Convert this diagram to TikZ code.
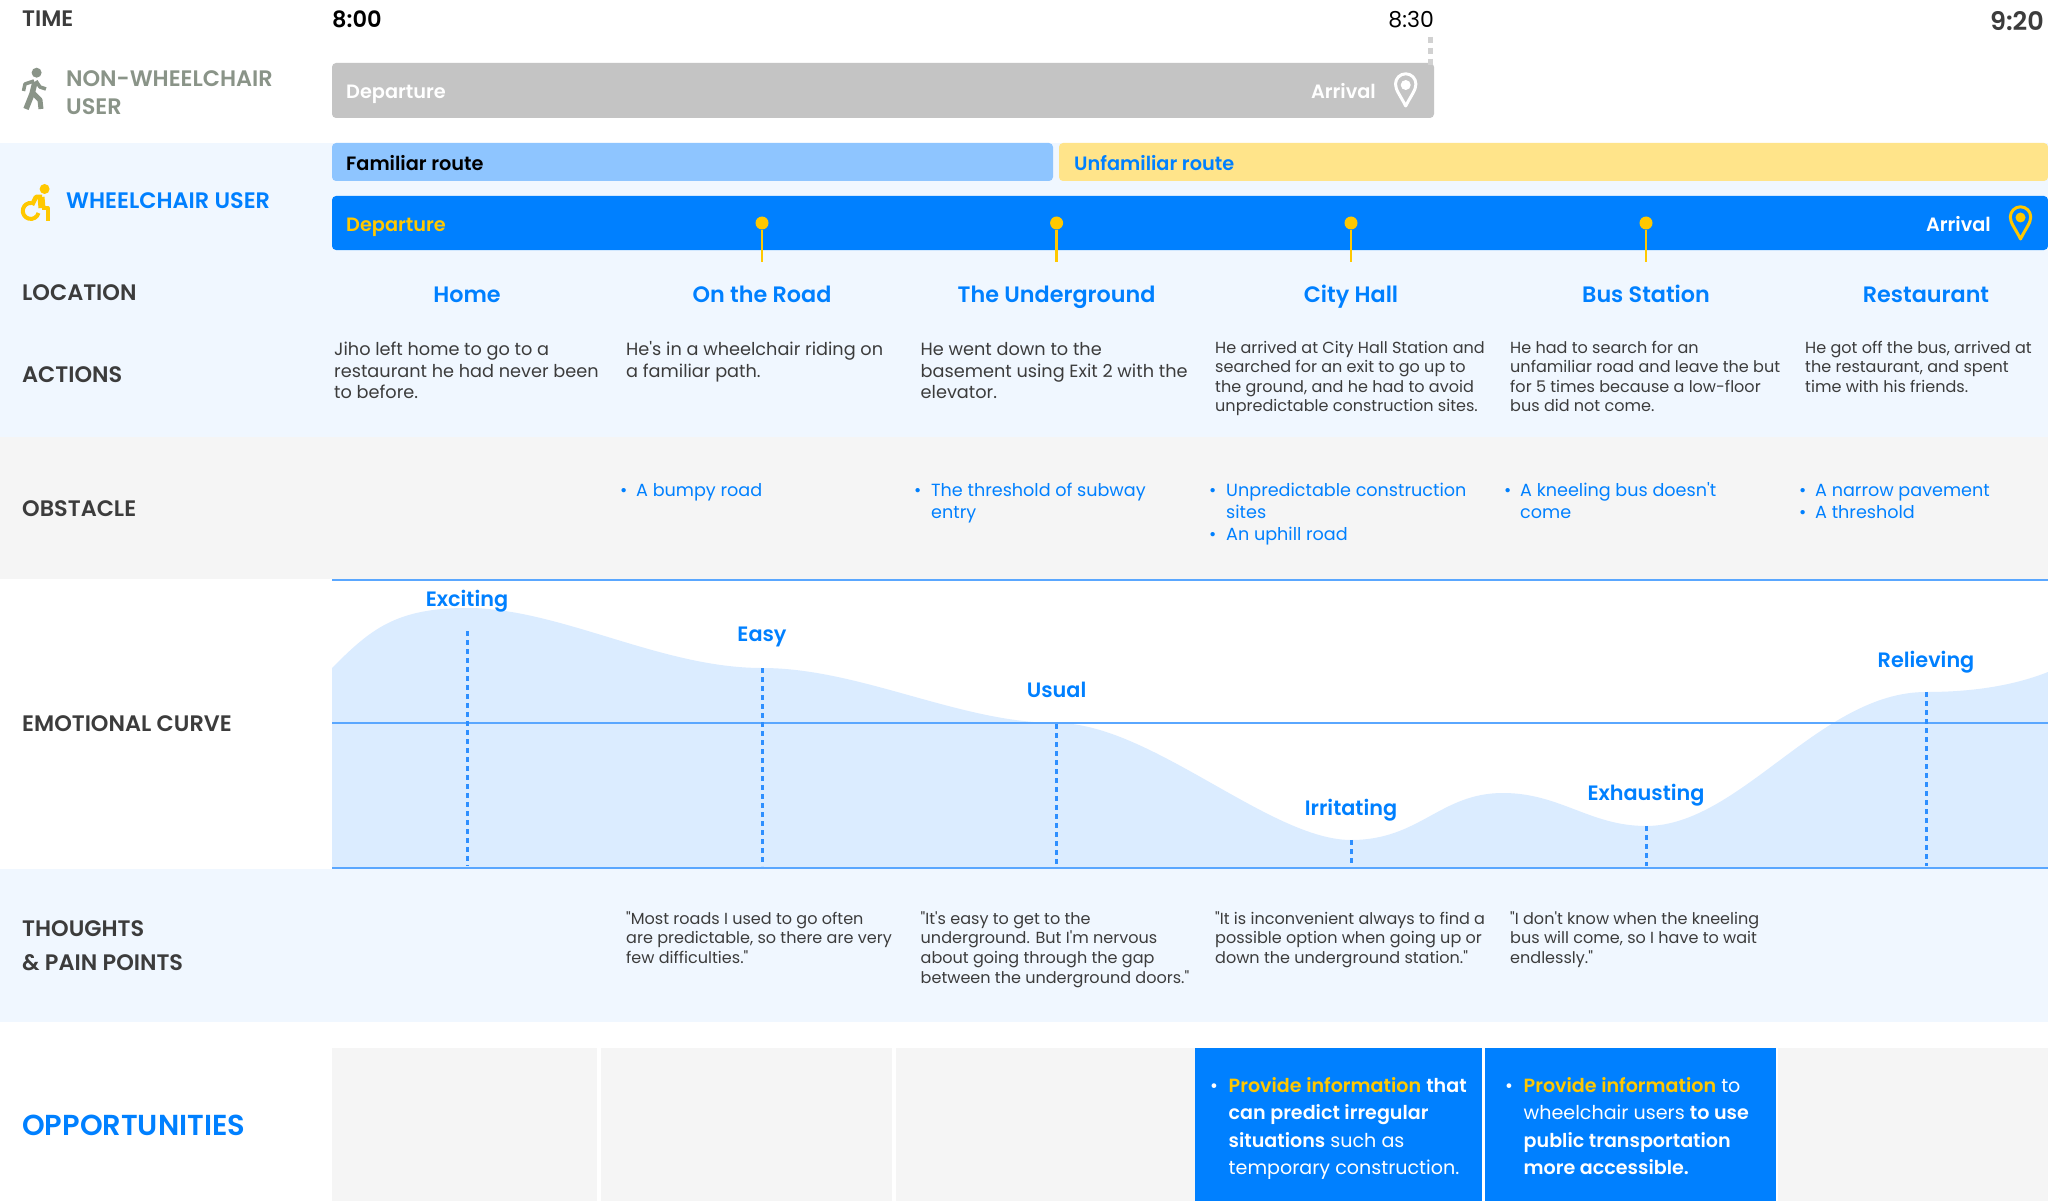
\documentclass[tikz,border=0pt]{standalone}
\usepackage{fontspec}
\setmainfont{Poppins}
\newfontfamily\preg{Poppins}
\newfontfamily\pmed{Poppins Medium}
\newfontfamily\psemi{Poppins SemiBold}
\definecolor{band}{HTML}{F0F7FF}
\definecolor{graycell}{HTML}{F5F5F5}
\definecolor{bluemain}{HTML}{0080FF}
\definecolor{yel}{HTML}{FFC800}
\definecolor{ink}{HTML}{3C3C3C}
\definecolor{walker}{HTML}{8A9488}
\definecolor{barb}{HTML}{8EC5FF}
\definecolor{bary}{HTML}{FFE48A}
\definecolor{curvefill}{HTML}{DBECFF}
\definecolor{rule}{HTML}{5AA7FF}
\definecolor{dash}{HTML}{2E8FFF}
\tikzset{
  x=1pt,y=-1pt,
  lab/.style={inner sep=0pt,anchor=base west,font=\psemi\fontsize{22.4}{22}\selectfont,text=ink},
  loc/.style={inner sep=0pt,anchor=base,font=\psemi\fontsize{22.3}{23}\selectfont,text=bluemain},
  emo/.style={inner sep=0pt,anchor=base,font=\psemi\fontsize{20.8}{21}\selectfont,text=bluemain},
  bartxt/.style={inner sep=0pt,anchor=base west,font=\psemi\fontsize{19.3}{19.5}\selectfont},
  actbig/.style={inner sep=0pt,anchor=north west,align=left,text=ink,font=\preg\fontsize{17.7}{21.7}\selectfont},
  actsm/.style={inner sep=0pt,anchor=north west,align=left,text=ink,font=\preg\fontsize{16.05}{19.6}\selectfont},
  obst/.style={inner sep=0pt,anchor=north west,align=left,text=bluemain,font=\preg\fontsize{17.6}{21.7}\selectfont},
  opp/.style={inner sep=0pt,anchor=north west,align=left,text=white,font=\preg\fontsize{19.1}{27.6}\selectfont},
  vdash/.style={draw=dash,line width=3pt,dash pattern=on 5pt off 4pt},
  hrule/.style={draw=rule,line width=2pt},
  pinline/.style={draw=yel,line width=2.4pt},
  cell/.style={fill=graycell},
  bluecell/.style={fill=bluemain},
}
\begin{document}
\begin{tikzpicture}
\useasboundingbox (0,0) rectangle (2048,1201);
\fill[white] (0,0) rectangle (2048,1201);
% bands
\fill[band] (0,143) rectangle (2048,437);
\fill[graycell] (0,437) rectangle (2048,579);
\fill[band] (0,869) rectangle (2048,1022);
% curve
\fill[curvefill] (332,668) .. controls (370,630) and (395,608) .. (467,608)
  .. controls (560,608) and (660,668) .. (762,668)
  .. controls (860,668) and (960,723) .. (1056.6,723)
  .. controls (1150,723) and (1270,840) .. (1351,840)
  .. controls (1420,840) and (1440,793) .. (1503,793)
  .. controls (1560,793) and (1590,826) .. (1646,826)
  .. controls (1740,826) and (1820,692) .. (1926,692)
  .. controls (1975,692) and (2015,685) .. (2048,672)
  -- (2048,868) -- (332,868) -- cycle;
\coordinate (rt) at (332,580); \coordinate (rte) at (2048,580);
\coordinate (rm) at (332,723); \coordinate (rme) at (2048,723);
\coordinate (rb) at (332,868); \coordinate (rbe) at (2048,868);
\draw[hrule] (rt) -- (rte);
\draw[hrule] (rm) -- (rme);
\draw[hrule] (rb) -- (rbe);
% emotional dashed lines
\foreach \n/\x/\y in {a/467/631,b/762/668,c/1056.6/724,d/1351/840,e/1646/826,f/1926/692}{
  \coordinate (dt\n) at (\x,\y); \coordinate (db\n) at (\x,866);
  \draw[vdash] (dt\n) -- (db\n);
}
% bars
\fill[rounded corners=4pt,fill=black!23] (332,63) rectangle (1434,118);
\fill[rounded corners=4pt,fill=barb] (332,143) rectangle (1053,181);
\fill[rounded corners=4pt,fill=bary] (1059,143) rectangle (2048,181);
\fill[rounded corners=4pt,fill=bluemain] (332,196) rectangle (2048,250);
% 8:30 dashes
\coordinate (tt) at (1430,37); \coordinate (tb) at (1430,67);
\draw[draw=black!18,line width=5pt,dash pattern=on 6pt off 5pt] (tt) -- (tb);
% time row
\node[lab] (time) at (22,27) {TIME};
\node[inner sep=0pt,anchor=base west,font=\psemi\fontsize{22.5}{23}\selectfont,text=black] (t800) at (332,28) {8:00};
\node[inner sep=0pt,anchor=base east,font=\preg\fontsize{22}{22}\selectfont,text=black] (t830) at (1434,28) {8:30};
\node[inner sep=0pt,anchor=base east,font=\psemi\fontsize{25.5}{25}\selectfont,text=ink] (t920) at (2044,31) {9:20};
% walker icon
\fill[walker] (36.6,72.7) circle (5);
\draw[walker,line width=5.5pt,line join=round] (35,82) -- (32,94) -- (26,109);
\draw[walker,line width=5pt,line join=round] (33,93) -- (40,100) -- (41,109);
\draw[walker,line width=3.5pt,line join=round] (34,81) -- (25,84) -- (23.5,91);
\draw[walker,line width=3.5pt,line join=round] (36,81) -- (40,87) -- (46,89);
\node[lab,text=walker,align=left,anchor=north west,font=\psemi\fontsize{22.4}{28.7}\selectfont] (nw) at (66,66) {\strut NON-WHEELCHAIR\\USER};
% wheelchair icon
\fill[yel] (44.6,189) circle (5);
\draw[yel,line width=7pt,line join=round] (41,197) -- (42,208);
\draw[yel,line width=4pt,line join=round] (42,208) -- (47.5,208) -- (47.5,221);
\draw[yel,line width=4.5pt,line join=round] (32,205) -- (36,197) -- (42,197);
\draw[yel,line width=4pt] (38.5,213) arc (15:275:8);
\node[lab,text=bluemain] (wc) at (66,209) {WHEELCHAIR USER};
% bar labels
\node[bartxt,text=white] (dep1) at (346,98.5) {Departure};
\node[bartxt,text=white,anchor=base east] (arr1) at (1376,98.5) {Arrival};
\node[bartxt,text=black] (fam) at (346,171) {Familiar route};
\node[bartxt,text=bluemain] (unf) at (1074,171) {Unfamiliar route};
\node[bartxt,text=yel] (dep2) at (346,232) {Departure};
\node[bartxt,text=white,anchor=base east] (arr2) at (1991,232) {Arrival};
% pins
\draw[white,line width=3pt,line join=round] (1405.7,106) .. controls (1400,95) and (1395.5,90) .. (1395.5,84)
  arc (180:360:10.2) .. controls (1415.9,90) and (1411.4,95) .. cycle;
\fill[white] (1405.7,85) circle (5);
\draw[yel,line width=3pt,line join=round] (2020.5,239) .. controls (2015,228) and (2010.3,223) .. (2010.3,217)
  arc (180:360:10.2) .. controls (2030.7,223) and (2026,228) .. cycle;
\fill[yel] (2020.5,217.5) circle (5);
% route pins
\foreach \n/\x in {a/762,b/1056.6,c/1351,d/1646}{
  \node[circle,fill=yel,minimum size=13pt,inner sep=0pt] (p\n) at (\x,223) {};
  \coordinate (pe\n) at (\x,262);
  \draw[pinline] (p\n) -- (pe\n);
}
% left labels
\node[lab] (loc) at (22,300) {LOCATION};
\node[lab] (act) at (22,382) {ACTIONS};
\node[lab] (obs) at (22,516) {OBSTACLE};
\node[lab] (emc) at (22,731) {EMOTIONAL CURVE};
\node[lab,align=left,anchor=north west,font=\psemi\fontsize{22.4}{33.5}\selectfont] (tp) at (22,913) {\strut THOUGHTS\\\& PAIN POINTS};
\node[lab,text=bluemain,font=\psemi\fontsize{28.9}{28}\selectfont] (oppl) at (22,1135) {OPPORTUNITIES};
% locations
\node[loc] (l1) at (467,302) {Home};
\node[loc] (l2) at (762,302) {On the Road};
\node[loc] (l3) at (1056.6,302) {The Underground};
\node[loc] (l4) at (1351,302) {City Hall};
\node[loc] (l5) at (1646,302) {Bus Station};
\node[loc] (l6) at (1926,302) {Restaurant};
% actions
\node[actbig] (a1) at (334,340) {\strut Jiho left home to go to a\\restaurant he had never been\\to before.};
\node[actbig] (a2) at (626,340) {\strut He's in a wheelchair riding on\\a familiar path.};
\node[actbig] (a3) at (920.5,340) {\strut He went down to the\\basement using Exit 2 with the\\elevator.};
\node[actsm] (a4) at (1215,339.2) {\strut He arrived at City Hall Station and\\searched for an exit to go up to\\the ground, and he had to avoid\\unpredictable construction sites.};
\node[actsm] (a5) at (1510,339.2) {\strut He had to search for an\\unfamiliar road and leave the but\\for 5 times because a low-floor\\bus did not come.};
\node[actsm] (a6) at (1805,339.2) {\strut He got off the bus, arrived at\\the restaurant, and spent\\time with his friends.};
% obstacles
\node[obst] (b1) at (620,481.5) {\strut •};
\node[obst] (o1) at (636,481.5) {\strut A bumpy road};
\node[obst] (b2) at (914,481.5) {\strut •};
\node[obst] (o2) at (931,481.5) {\strut The threshold of subway\\entry};
\node[obst] (b3) at (1209,481.5) {\strut •};
\node[obst] (o3) at (1226,481.5) {\strut Unpredictable construction\\sites};
\node[obst] (b3b) at (1209,524.9) {\strut •};
\node[obst] (o3b) at (1226,524.9) {\strut An uphill road};
\node[obst] (b4) at (1504,481.5) {\strut •};
\node[obst] (o4) at (1520,481.5) {\strut A kneeling bus doesn't\\come};
\node[obst] (b5) at (1799,481.5) {\strut •};
\node[obst] (o5) at (1815,481.5) {\strut A narrow pavement};
\node[obst] (b5b) at (1799,503.2) {\strut •};
\node[obst] (o5b) at (1815,503.2) {\strut A threshold};
% emotion labels
\node[emo] (e1) at (467,606) {Exciting};
\node[emo] (e2) at (762,641) {Easy};
\node[emo] (e3) at (1056.6,697) {Usual};
\node[emo] (e4) at (1351,815) {Irritating};
\node[emo] (e5) at (1646,800) {Exhausting};
\node[emo] (e6) at (1926,667) {Relieving};
% thoughts
\node[actsm] (th1) at (626,910.3) {\strut "Most roads I used to go often\\are predictable, so there are very\\few difficulties."};
\node[actsm] (th2) at (920.5,910.3) {\strut "It's easy to get to the\\underground. But I'm nervous\\about going through the gap\\between the underground doors."};
\node[actsm] (th3) at (1215,910.3) {\strut "It is inconvenient always to find a\\possible option when going up or\\down the underground station."};
\node[actsm] (th4) at (1510,910.3) {\strut "I don't know when the kneeling\\bus will come, so I have to wait\\endlessly."};
% opportunity cells
\fill[cell] (332,1048) rectangle (597,1201);
\fill[cell] (601,1048) rectangle (892,1201);
\fill[cell] (896,1048) rectangle (1194.5,1201);
\fill[bluecell] (1194.5,1048) rectangle (1481.5,1201);
\fill[bluecell] (1484.5,1048) rectangle (1776,1201);
\fill[cell] (1778,1048) rectangle (2048,1201);
\node[opp] (ob1) at (1210,1072.5) {\strut •};
\node[opp] (ot1) at (1228.5,1072.5) {\strut {\psemi\textcolor{yel}{Provide information}} {\psemi that}\\{\psemi can predict irregular}\\{\psemi situations} such as\\temporary construction.};
\node[opp] (ob2) at (1505,1072.5) {\strut •};
\node[opp] (ot2) at (1523.5,1072.5) {\strut {\psemi\textcolor{yel}{Provide information}} to\\wheelchair users {\psemi to use}\\{\psemi public transportation}\\{\psemi more accessible.}};
\end{tikzpicture}
\end{document}
